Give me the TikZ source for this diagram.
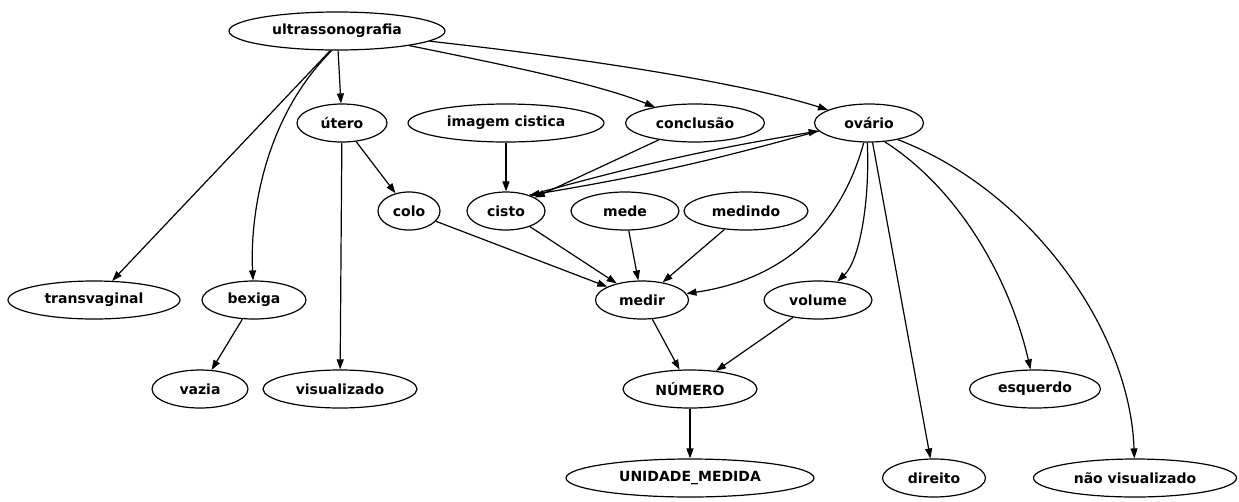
\documentclass[tikz,border=0pt]{standalone}
\usepackage{fontspec}
\setmainfont{DejaVu Sans}
\usetikzlibrary{shapes.geometric,arrows.meta}
\begin{document}
\begin{tikzpicture}[x=1pt,y=-1pt,
  every node/.style={font=\fontsize{14}{16}\selectfont\bfseries},
  term/.style={ellipse,draw,line width=1.2pt,minimum height=38pt,inner sep=0pt},
  link/.style={line width=1.2pt,-{Triangle[length=10pt,width=7pt]}}]
\useasboundingbox[fill=white] (0,0) rectangle (1239,501);
% row 1
\node[term,minimum width=216pt] (ultra) at (337,31) {ultrassonografia};
% row 2
\node[term,minimum width=90pt]  (utero) at (342,123) {útero};
\node[term,minimum width=196pt] (imagem) at (506,123) {imagem cistica};
\node[term,minimum width=139pt] (conclusao) at (695,123) {conclusão};
\node[term,minimum width=109pt] (ovario) at (869,123) {ovário};
% row 3
\node[term,minimum width=62pt]  (colo) at (409,211) {colo};
\node[term,minimum width=78pt]  (cisto) at (506,211) {cisto};
\node[term,minimum width=108pt] (mede) at (625,211) {mede};
\node[term,minimum width=124pt] (medindo) at (746,211) {medindo};
% row 4
\node[term,minimum width=172pt] (transvaginal) at (94,300) {transvaginal};
\node[term,minimum width=104pt] (bexiga) at (254,300) {bexiga};
\node[term,minimum width=93pt]  (medir) at (642,300) {medir};
\node[term,minimum width=108pt] (volume) at (818,300) {volume};
% row 5
\node[term,minimum width=96pt]  (vazia) at (200,389) {vazia};
\node[term,minimum width=154pt] (visualizado) at (340,389) {visualizado};
\node[term,minimum width=134pt] (numero) at (690,389) {NÚMERO};
\node[term,minimum width=131pt] (esquerdo) at (1035,389) {esquerdo};
% row 6
\node[term,minimum width=248pt] (unidade) at (690,478) {UNIDADE\_MEDIDA};
\node[term,minimum width=103pt] (direito) at (934,478) {direito};
\node[term,minimum width=203pt] (naovis) at (1135,478) {não visualizado};

% edges from ultrassonografia
\draw[link] (ultra) -- (utero);
\draw[link] (ultra) .. controls (520,68) and (600,85) .. (conclusao);
\draw[link] (ultra) .. controls (600,60) and (750,85) .. (ovario);
\draw[link] (ultra.251) -- (transvaginal);
\draw[link] (ultra.255) .. controls (262,120) and (250,220) .. (bexiga);
% útero
\draw[link] (utero) -- (colo);
\draw[link] (utero) -- (visualizado);
% cisto and neighbours
\draw[link] (imagem) -- (cisto);
\draw[link] (conclusao) -- (cisto);
\draw[link] (cisto.34) to[bend left=3] (ovario.189);
\draw[link] (ovario.189) to[bend left=3] (cisto.34);
% into medir
\draw[link] (colo) -- (medir);
\draw[link] (cisto) -- (medir);
\draw[link] (mede) -- (medir);
\draw[link] (medindo) -- (medir);
\draw[link] (ovario.255) .. controls (840,230) and (780,280) .. (medir);
% from ovário
\draw[link] (ovario.265) .. controls (870,200) and (860,260) .. (volume);
\draw[link] (ovario) -- (direito);
\draw[link] (ovario.310) .. controls (960,190) and (1010,280) .. (esquerdo);
\draw[link] (ovario.330) .. controls (1030,190) and (1130,330) .. (naovis);
% lower part
\draw[link] (bexiga) -- (vazia);
\draw[link] (medir) -- (numero);
\draw[link] (volume) -- (numero);
\draw[link] (numero) -- (unidade);
\end{tikzpicture}
\end{document}
